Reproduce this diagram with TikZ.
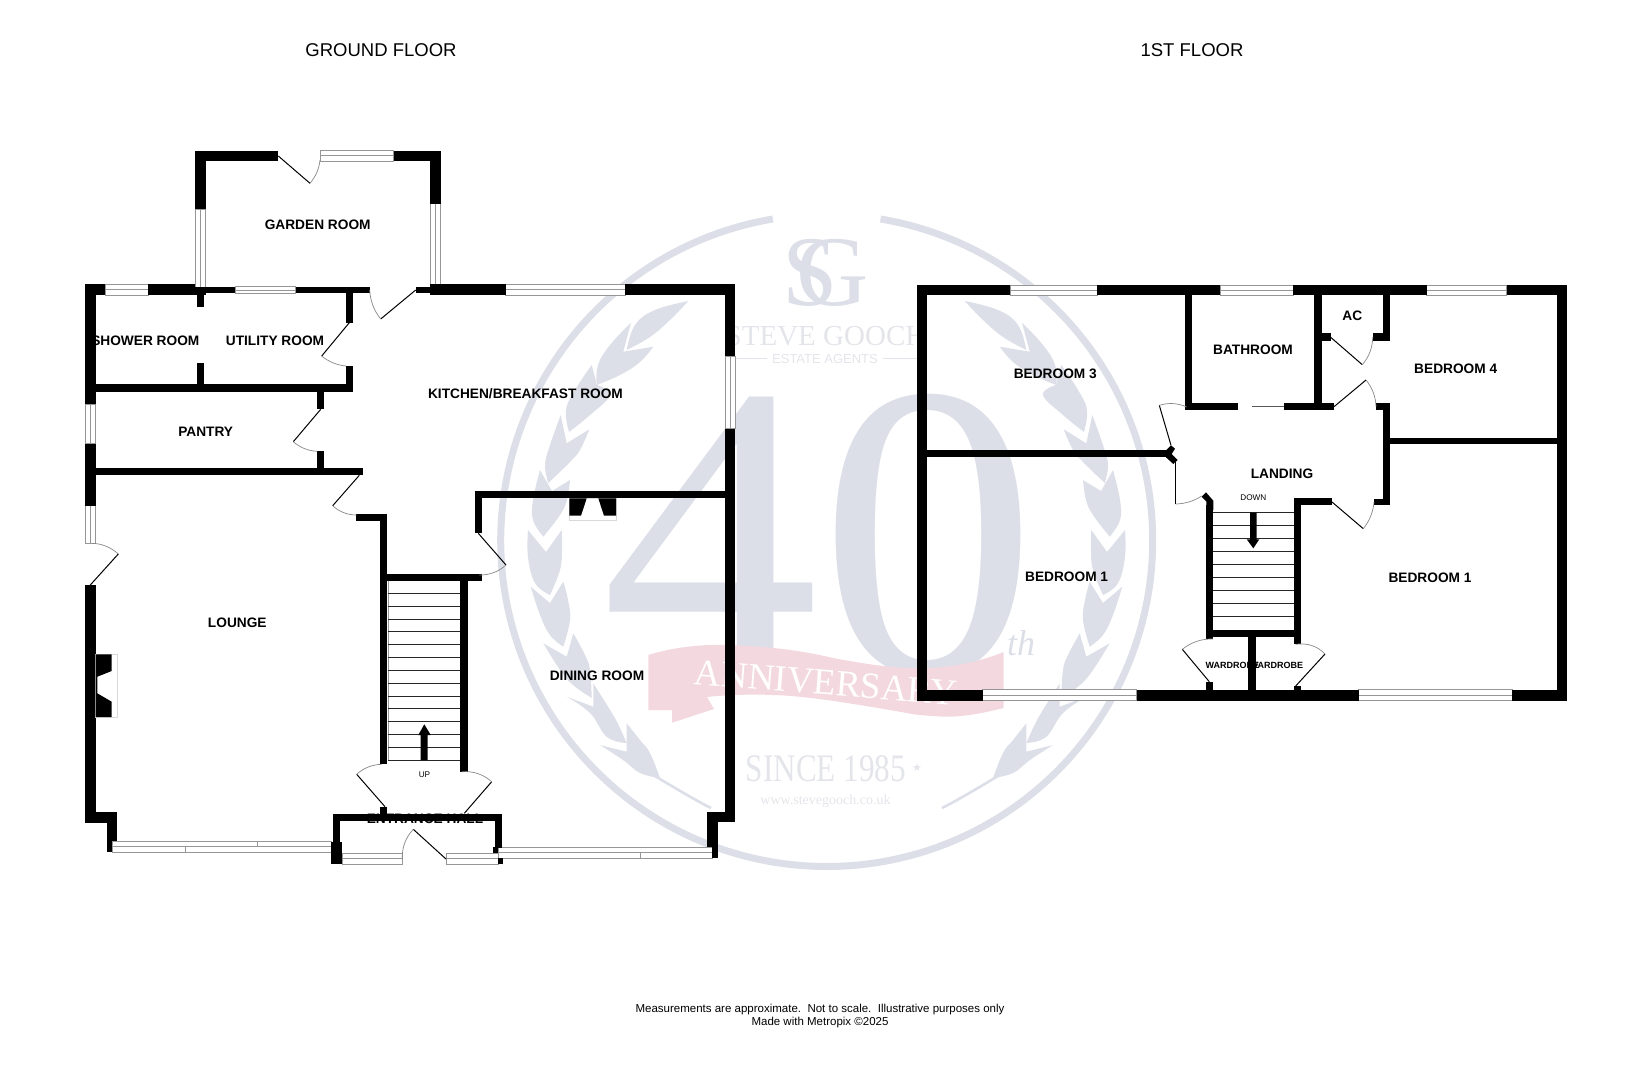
\documentclass[tikz,border=0pt]{standalone}
\usepackage{fontspec}
\usepackage{graphicx}
\setmainfont{Liberation Sans}
\newfontfamily\wmserif{Liberation Serif}
\newfontfamily\symfont{DejaVu Sans}
\definecolor{wmblue}{RGB}{220,223,232}
\definecolor{wmgrey}{RGB}{228,229,234}
\definecolor{wmpink}{RGB}{243,217,223}
\definecolor{winline}{RGB}{150,150,150}
\definecolor{arcline}{RGB}{135,135,135}
\tikzset{
  room/.style={inner sep=0pt,font=\fontsize{13.7}{14}\selectfont\bfseries},
  wardrobetxt/.style={inner sep=0pt,font=\fontsize{9}{10}\selectfont\bfseries},
  tiny label/.style={inner sep=0pt,font=\fontsize{8.2}{9}\selectfont},
  floor title/.style={inner sep=0pt,font=\fontsize{18.5}{20}\selectfont},
  footer/.style={inner sep=0pt,font=\fontsize{11.5}{12}\selectfont},
  wallfill/.style={fill=black,draw=none},
  doorleaf/.style={draw=black,line width=1pt},
  doorarc/.style={draw=arcline,line width=0.7pt},
  treadline/.style={draw=black!85,line width=0.9pt},
  wintri/.style={draw=winline,line width=0.8pt,fill=white},
  mark leaf/.style={fill=wmblue,draw=none}
}
\newcommand\wall[4]{\fill[wallfill] (#1,#2) rectangle (#3,#4);}
\newcommand\winh[4]{\draw[wintri] (#1,#2) rectangle (#3,#4);
  \draw[winline,line width=0.8pt] (#1,{(#2+#4)/2}) -- (#3,{(#2+#4)/2});}
\newcommand\winv[4]{\draw[wintri] (#1,#2) rectangle (#3,#4);
  \draw[winline,line width=0.8pt] ({(#1+#3)/2},#2) -- ({(#1+#3)/2},#4);}
\newcommand\doorswing[6]{%
  \pgfmathsetmacro\doorMx{(#3+#5)/2-#1}%
  \pgfmathsetmacro\doorMy{(#4+#6)/2-#2}%
  \pgfmathsetmacro\doorK{((#3-#1)*(#3-#1)+(#4-#2)*(#4-#2))/(\doorMx*\doorMx+\doorMy*\doorMy)}%
  \pgfmathsetmacro\doorCx{#1+\doorK*\doorMx}%
  \pgfmathsetmacro\doorCy{#2+\doorK*\doorMy}%
  \draw[doorleaf] (#1,#2) -- (#3,#4);
  \draw[doorarc] (#3,#4) .. controls ({#3+0.667*(\doorCx-#3)},{#4+0.667*(\doorCy-#4)})
     and ({#5+0.667*(\doorCx-#5)},{#6+0.667*(\doorCy-#6)}) .. (#5,#6);
}
\newcommand\wleaf[8]{\fill[mark leaf] plot[smooth,tension=0.7] coordinates {#1 #2 #3 #4} -- plot[smooth,tension=0.7] coordinates {#4 #5 #6 #7} -- #8 -- cycle;}
\newcommand\wreathbranch{%
  \wleaf{(688.3,301)}{(655,310)}{(635,325)}{(626.7,350)}{(650,337)}{(670,320)}{(688.3,301)}{(688.3,301)}
  \wleaf{(631,322.7)}{(610,345)}{(598,365)}{(596.7,385)}{(620,375)}{(640,362)}{(653.3,346.7)}{(623.3,351.7)}
  \wleaf{(591.7,365)}{(575,390)}{(566,410)}{(569,432)}{(590,415)}{(610,395)}{(597,385)}{(597,385)}
  \wleaf{(560.7,415)}{(550,445)}{(545,465)}{(548.3,483)}{(570,462)}{(580,450)}{(589.3,429.3)}{(566.7,443.3)}
  \wleaf{(540,470)}{(533,500)}{(533,520)}{(543.3,536.7)}{(560,515)}{(567,500)}{(570,480)}{(552,491)}
  \wleaf{(528,530)}{(528,557)}{(535,583)}{(550,595)}{(560,570)}{(562,550)}{(561.7,530)}{(546,552)}
  \wleaf{(530.7,586.7)}{(540,615)}{(550,635)}{(563.3,646.7)}{(570,620)}{(568,600)}{(563.3,581.7)}{(550,603)}
  \wleaf{(543.3,643.3)}{(560,670)}{(573,685)}{(591.7,698)}{(590,670)}{(585,655)}{(573.3,633.3)}{(566.7,656.7)}
  \wleaf{(566.7,696.7)}{(590,713)}{(607,737)}{(626.7,743)}{(617,722)}{(607,705)}{(593.3,683.3)}{(593.3,706.7)}
  \wleaf{(600,745)}{(623,760)}{(640,773)}{(660,778)}{(650,753)}{(640,740)}{(626.7,723.3)}{(626.7,751.7)}
  \draw[wmblue,line width=2.6pt] (655,776) .. controls (675,788) and (695,800) .. (711,808);
}
\begin{document}
\begin{tikzpicture}[x=1pt,y=-1pt]
\useasboundingbox (0,0) rectangle (1652,1080);
% ---------- watermark ----------
\draw[wmblue,line width=7pt] plot[domain=99.5:440.5,samples=200,smooth] ({826.7+326*cos(\x)},{540.5-326*sin(\x)});
\node[inner sep=0pt,anchor=base west,text=wmblue,font=\wmserif\fontsize{436}{436}\selectfont] (wmforty) at (601.5,672) {\scalebox{1}[0.96]{40}};
\wreathbranch
\begin{scope}[shift={(1653,0)},xscale=-1]
\wreathbranch
\end{scope}
\node[inner sep=0pt,anchor=base,text=wmblue,font=\wmserif\fontsize{100}{100}\selectfont] (wms) at (810,305) {S};
\node[inner sep=0pt,anchor=base,text=wmblue,font=\wmserif\fontsize{100}{100}\selectfont] (wmg) at (833,305) {G};
\node[inner sep=0pt,anchor=base,text=wmgrey,font=\wmserif\fontsize{29}{29}\selectfont] (wmname) at (826,345) {STEVE GOOCH};
\node[inner sep=0pt,anchor=base,text=wmgrey,font=\fontsize{13}{13}\selectfont] (wmestate) at (825,363) {ESTATE AGENTS};
\coordinate (wml1) at (735,358); \coordinate (wml2) at (767,358);
\coordinate (wml3) at (883,358); \coordinate (wml4) at (917,358);
\draw[wmgrey,line width=0.9pt] (wml1) -- (wml2) (wml3) -- (wml4);
\node[inner sep=0pt,anchor=base,text=wmblue,font=\wmserif\itshape\fontsize{36}{36}\selectfont] (wmth) at (1021,655) {th};
\fill[wmpink] (648.3,655) .. controls (670,648) and (700,644) .. (725,645)
  .. controls (765,646) and (800,650) .. (833,658)
  .. controls (860,663) and (885,667) .. (907,668)
  .. controls (925,669) and (965,668) .. (1003.5,652)
  -- (1003.5,708) .. controls (980,714) and (960,717) .. (945,716.7)
  .. controls (930,716) and (915,715) .. (907,713)
  .. controls (860,705) and (810,696) .. (773,695)
  .. controls (750,694) and (725,695) .. (707,697)
  -- (714,709) -- (672,722.7) -- (672,710) -- (648.3,710) -- cycle;
\node[inner sep=0pt,rotate=-4.5,text=white,font=\wmserif\fontsize{37}{37}\selectfont] (wmann) at (826,683) {ANNIVERSARY};
\node[inner sep=0pt,anchor=base,text=wmgrey,font=\wmserif\fontsize{39}{39}\selectfont] (wmsince) at (826,781) {\scalebox{0.8}[1]{SINCE 1985}};
\node[inner sep=0pt,text=wmgrey,font=\symfont\fontsize{11}{11}\selectfont] (wmstar) at (917,768) {★};
\node[inner sep=0pt,anchor=base,text=wmgrey,font=\wmserif\fontsize{14}{14}\selectfont] (wmurl) at (825.5,804) {www.stevegooch.co.uk};

% ---------- ground floor windows ----------
\winh{320}{150.7}{393.7}{161}
\winv{195}{209.3}{205.7}{290}
\winv{430.3}{203.7}{440.7}{285}
\winh{105.3}{284.3}{148.3}{295}
\winh{235.3}{286.7}{295.7}{293.3}
\winh{505.7}{284.3}{625}{295}
\winv{725}{356}{735.3}{428.7}
\winv{85.3}{404.3}{95.7}{443.7}
\winv{85.3}{505.7}{95.7}{543.3}
\winh{112.3}{841.3}{331}{852}
\draw[winline,line width=0.6pt] (185,846.6) -- (185,852) (257.3,841.3) -- (257.3,846.6);
\winh{342}{853.3}{402.3}{864}
\winh{446}{853.3}{498.3}{864}
\winh{498.3}{847.3}{712}{858}
\draw[winline,line width=0.6pt] (640.7,852.6) -- (640.7,858);

% ---------- ground floor walls ----------
\wall{195}{150.7}{278.3}{161}
\wall{195}{150.7}{205.7}{209.3}
\wall{393.7}{150.7}{440.7}{161}
\wall{430.3}{150.7}{440.7}{203.7}
\wall{85.3}{284.3}{105.3}{295}
\wall{148.3}{284.3}{195}{295}
\wall{195}{286.7}{205.7}{295}
\wall{85.3}{284.3}{95.7}{404.3}
\wall{197}{290}{204}{307.3}
\wall{197}{363.3}{204}{385}
\wall{205.7}{286.7}{235.3}{293.3}
\wall{295.7}{286.7}{369.7}{293.3}
\wall{346}{290}{353}{322.7}
\wall{346}{366}{353}{391.7}
\wall{95.7}{384.3}{353}{391.7}
\wall{317.3}{391.7}{324.3}{409.3}
\wall{317.3}{451.3}{324.3}{468.3}
\wall{95.7}{468.3}{363.3}{475.3}
\wall{85.3}{443.7}{95.7}{505.7}
\wall{356}{514}{387.3}{520.7}
\wall{380.3}{514}{387.3}{764.3}
\wall{387.3}{574.3}{482.3}{581}
\wall{459.7}{574.3}{467.7}{771.7}
\wall{380.3}{806.7}{387.3}{815}
\wall{333}{813.7}{501.7}{820.7}
\wall{333}{813.7}{340}{841.7}
\wall{331}{841.7}{342}{864}
\wall{494.7}{813.7}{501.7}{848.3}
\wall{492.7}{847.3}{498.3}{853.3}
\wall{498.3}{858.3}{503.3}{864}
\wall{85.3}{585.3}{95.7}{822.7}
\wall{85.3}{812}{117.3}{822.7}
\wall{106.7}{812}{117.3}{841.3}
\wall{106.7}{841.3}{112.3}{852}
\wall{415.7}{286.7}{430.3}{293.3}
\wall{430.3}{284.3}{505.7}{295}
\wall{625}{284.3}{735.3}{295}
\wall{725}{284.3}{735.3}{356}
\wall{725}{428.7}{735.3}{822.3}
\wall{706.7}{811.7}{735.3}{822.3}
\wall{706.7}{811.7}{717.7}{847.3}
\wall{712}{847.3}{717.7}{858}
\wall{475}{491.3}{725}{498.3}
\wall{475}{491.3}{482.3}{533.3}
% fireplaces
\draw[black!15,line width=0.7pt] (95.7,654.3) rectangle (117.3,717);
\fill[black] (95.7,654.3) -- (111.7,654.3) -- (111.7,671) -- (97.3,676.7) -- (97.3,693.3) -- (111.7,701.7) -- (111.7,717) -- (95.7,717) -- cycle;
\draw[black!15,line width=0.7pt] (569.3,498.3) rectangle (616,520.7);
\fill[black] (569.3,498.3) -- (586.7,498.3) -- (581,515.7) -- (569.3,515.7) -- cycle;
\fill[black] (598.3,498.3) -- (616,498.3) -- (616,515.7) -- (604,515.7) -- cycle;

% ---------- ground floor stairs ----------
\draw[black!40,line width=0.7pt] (388.3,581) -- (388.3,760);
\foreach \ty in {593.3,606.1,619,631.8,644.6,657.5,670.3,683.1,696,708.8,721.6,734.5,747.3,760}
  {\draw[treadline] (388.3,\ty) -- (459.7,\ty);}
\fill[black] (420.7,760) -- (420.7,735) -- (418.3,735) -- (424.3,724.3) -- (430.7,735) -- (427.7,735) -- (427.7,760) -- cycle;

% ---------- ground floor doors ----------
\doorswing{278.3}{156}{310}{183.3}{320}{160}
\doorswing{415.7}{290}{380.7}{319}{369.7}{290}
\doorswing{349.3}{322.7}{321.7}{356}{346}{366}
\doorswing{320.7}{409.3}{293.3}{441.7}{317.3}{451.3}
\doorswing{359.3}{475.3}{332.7}{505.7}{356.7}{515}
\doorswing{90}{585.3}{118.3}{554}{93}{543.3}
\doorswing{478.3}{533.3}{506}{565}{479.3}{575}
\doorswing{385}{806.7}{356.7}{774.3}{381.7}{764.3}
\doorswing{464.3}{813.3}{491.7}{781.7}{461.7}{771.7}
\doorswing{446}{859}{413.3}{829.3}{402.3}{859}

% ---------- first floor windows ----------
\winh{1010}{285}{1097}{295.3}
\winh{1220.3}{285}{1293.3}{295.3}
\winh{1426.7}{285}{1506.7}{295.3}
\winh{982.6}{689.5}{1136.5}{700.5}
\winh{1358.5}{689.5}{1512}{700.5}

% ---------- first floor walls ----------
\wall{916.7}{285}{1010}{295.3}
\wall{1097}{285}{1220.3}{295.3}
\wall{1293.3}{285}{1426.7}{295.3}
\wall{1506.7}{285}{1567.3}{295.3}
\wall{916.7}{285}{927.3}{700.5}
\wall{1556.7}{285}{1567.3}{700.5}
\wall{916.7}{689.5}{982.6}{700.5}
\wall{1136.5}{689.5}{1358.5}{700.5}
\wall{1512}{689.5}{1567.3}{700.5}
\wall{1184.7}{295}{1191.7}{410.3}
\wall{1184.7}{403.3}{1238.3}{410.3}
\wall{1283.7}{403.3}{1334}{410.3}
\wall{1314.3}{295}{1321.7}{403.3}
\wall{1382.7}{295}{1390}{340.7}
\wall{1372.7}{333.3}{1390}{340.7}
\wall{1321.7}{333.3}{1330.7}{340.7}
\wall{1382.7}{403.3}{1390}{505.3}
\wall{1376}{403.3}{1390}{410.3}
\wall{1374}{498.7}{1390}{505.3}
\wall{1390}{437.7}{1557}{444.3}
\wall{1294}{498.3}{1301.3}{644.3}
\wall{1294}{498.3}{1332}{505}
\wall{1206.3}{505}{1213.3}{639}
\wall{1213}{630}{1294}{637.3}
\wall{1248.3}{637}{1255.7}{690}
\wall{1206.3}{681.7}{1213.3}{690}
\wall{1294}{686}{1301.3}{690}
\wall{927.3}{450.3}{1167}{457.3}
\fill[black] (1166,450.3) -- (1171,445.3) -- (1175,448.7) -- (1171.7,454) -- (1177.7,460) -- (1173.3,464) -- (1166,457.3) -- cycle;
\fill[black] (1201.7,496.7) -- (1206,492.3) -- (1213.3,500.7) -- (1213.3,510) -- (1206.3,510) -- (1206.3,501.5) -- cycle;

% ---------- first floor stairs ----------
\foreach \ty in {512.7,525.7,538.7,551.7,564.7,577.7,590.7,603.7,616.7}
  {\draw[treadline] (1213.3,\ty) -- (1294,\ty);}
\fill[black] (1250,512.7) -- (1256.7,512.7) -- (1256.7,539.3) -- (1259.3,539.3) -- (1253.3,548.3) -- (1246.7,539.3) -- (1250,539.3) -- cycle;

% ---------- first floor doors ----------
\doorswing{1171}{445.3}{1159.3}{405.3}{1186.7}{407}
\doorswing{1175.7}{461.7}{1175.7}{504}{1201.7}{496}
\doorswing{1330.7}{337.3}{1362.3}{364.7}{1372.7}{337}
\doorswing{1334}{406.7}{1366}{380}{1376}{406.7}
\doorswing{1332}{502}{1363.3}{528.7}{1374}{502}
\doorswing{1209.3}{681.7}{1182.3}{649.3}{1213}{639}
\doorswing{1295.7}{686}{1325}{654}{1295.7}{644.3}
\coordinate (slideA) at (1252.3,406.7); \coordinate (slideB) at (1283.7,406.7);
\draw[black!65,line width=1pt] (slideA) -- (slideB);

% ---------- labels ----------
\node[floor title] (gftitle) at (381,50.5) {GROUND FLOOR};
\node[floor title] (fftitle) at (1192,50.5) {1ST FLOOR};
\node[room] (garden) at (317.7,224.4) {GARDEN ROOM};
\node[room] (shower) at (145.3,340.5) {SHOWER ROOM};
\node[room] (utility) at (275,340.5) {UTILITY ROOM};
\node[room] (pantry) at (205.7,431.7) {PANTRY};
\node[room] (kitchen) at (525.5,393.7) {KITCHEN/BREAKFAST ROOM};
\node[room] (lounge) at (237.3,622.5) {LOUNGE};
\node[room] (dining) at (597,675.5) {DINING ROOM};
\node[room] (hall) at (425,818.5) {ENTRANCE HALL};
\node[tiny label] (uplabel) at (424.5,775) {UP};
\node[room] (bed3) at (1055.3,373.7) {BEDROOM 3};
\node[room] (bath) at (1253,350.2) {BATHROOM};
\node[room] (ac) at (1352.3,315.4) {AC};
\node[room] (bed4) at (1455.7,368.4) {BEDROOM 4};
\node[room] (landing) at (1282,473.7) {LANDING};
\node[tiny label] (downlabel) at (1253.3,497.3) {DOWN};
\node[room] (bed1a) at (1066.6,576.5) {BEDROOM 1};
\node[room] (bed1b) at (1430,577.3) {BEDROOM 1};
\node[wardrobetxt] (wardA) at (1232.3,665.3) {WARDROBE};
\node[wardrobetxt] (wardB) at (1276.3,665.3) {WARDROBE};
\node[footer] (foot1) at (820,1010) {Measurements are approximate.\ \ Not to scale.\ \ Illustrative purposes only};
\node[footer] (foot2) at (820,1023) {Made with Metropix ©2025};
\end{tikzpicture}
\end{document}
